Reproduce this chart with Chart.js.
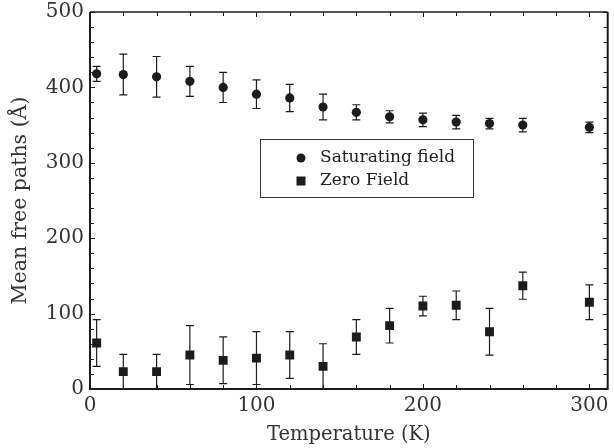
<!DOCTYPE html>
<html>
<head>
<meta charset="utf-8">
<script src="https://cdn.jsdelivr.net/npm/chart.js@4.4.0/dist/chart.umd.min.js"></script>
<style>
  html, body { margin: 0; padding: 0; background: #fff; }
  #wrap { width: 614px; height: 448px; position: relative; }
</style>
</head>
<body>
<div id="wrap"><canvas id="chart" width="614" height="448"></canvas></div>
<script>
// Temperature (K) of each measurement
const temps = [4, 20, 40, 60, 80, 100, 120, 140, 160, 180, 200, 220, 240, 260, 300];
// Saturating field: mean free path and error (Å)
const satValues = [418, 417, 414, 408, 400, 391, 386, 374, 367, 361, 357, 354, 352, 350, 347];
const satErrors = [10, 27, 27, 20, 20, 19, 18, 17, 10, 8, 9, 9, 7, 9, 7];
// Zero field: mean free path and error (Å)
const zeroValues = [61, 23, 23, 45, 38, 41, 45, 30, 69, 84, 110, 111, 76, 137, 115];
const zeroErrors = [31, 23, 23, 39, 31, 35, 31, 30, 23, 23, 13, 19, 31, 18, 23];

const seriesNames = ['Saturating field', 'Zero Field'];
const xLabel = 'Temperature (K)';
const yLabel = 'Mean free paths (\u00C5)';

const ink = '#1c1c1c';
const fontFamily = '"DejaVu Serif", serif';

function toPoints(xs, ys) {
    return xs.map((x, i) => ({ x: x, y: ys[i] }));
}

// error bars, drawn under the markers
const errorBars = {
    id: 'errorBars',
    beforeDatasetsDraw(chart) {
        const ctx = chart.ctx;
        const ys = chart.scales.y;
        const area = chart.chartArea;
        ctx.save();
        ctx.beginPath();
        ctx.rect(area.left, area.top, area.right - area.left, area.bottom - area.top);
        ctx.clip();
        ctx.strokeStyle = ink;
        ctx.lineWidth = 1.2;
        chart.data.datasets.forEach((ds, di) => {
            const meta = chart.getDatasetMeta(di);
            meta.data.forEach((pt, i) => {
                const v = ds.data[i].y, e = ds.errors[i];
                const top = ys.getPixelForValue(v + e);
                const bot = ys.getPixelForValue(v - e);
                ctx.beginPath();
                ctx.moveTo(pt.x, top); ctx.lineTo(pt.x, bot);
                ctx.moveTo(pt.x - 4, top); ctx.lineTo(pt.x + 4, top);
                ctx.moveTo(pt.x - 4, bot); ctx.lineTo(pt.x + 4, bot);
                ctx.stroke();
            });
        });
        ctx.restore();
    }
};

// box frame with inward ticks, and the framed legend
const frameAndLegend = {
    id: 'frameAndLegend',
    afterDraw(chart) {
        const ctx = chart.ctx;
        const a = chart.chartArea;
        const xs = chart.scales.x, ys = chart.scales.y;
        ctx.save();
        ctx.strokeStyle = ink;
        ctx.lineWidth = 1;
        ctx.beginPath();
        xs.ticks.forEach(t => {
            if (t.value % 20 !== 0) return;
            const len = t.value % 100 === 0 ? 5 : 4;
            const px = Math.round(xs.getPixelForValue(t.value)) + 0.5;
            ctx.moveTo(px, a.bottom); ctx.lineTo(px, a.bottom - len);
            ctx.moveTo(px, a.top); ctx.lineTo(px, a.top + len);
        });
        ys.ticks.forEach(t => {
            if (t.value % 20 !== 0) return;
            const len = t.value % 100 === 0 ? 5 : 4;
            const py = Math.round(ys.getPixelForValue(t.value)) + 0.5;
            ctx.moveTo(a.left, py); ctx.lineTo(a.left + len, py);
            ctx.moveTo(a.right, py); ctx.lineTo(a.right - len, py);
        });
        ctx.stroke();

        // frame: thin top, heavier left/right/bottom
        ctx.lineWidth = 1.3;
        ctx.beginPath();
        ctx.moveTo(a.left, a.top); ctx.lineTo(a.right, a.top);
        ctx.stroke();
        ctx.lineWidth = 2;
        ctx.beginPath();
        ctx.moveTo(a.left, a.top); ctx.lineTo(a.left, a.bottom);
        ctx.lineTo(a.right, a.bottom); ctx.lineTo(a.right, a.top);
        ctx.stroke();

        // legend box
        const lx = a.left + 170, ly = a.top + 127, lw = 213, lh = 58;
        ctx.lineWidth = 1;
        ctx.strokeStyle = '#333';
        ctx.fillStyle = '#fff';
        ctx.fillRect(lx, ly, lw, lh);
        ctx.strokeRect(lx + 0.5, ly + 0.5, lw, lh);
        ctx.font = '17px ' + fontFamily;
        ctx.textBaseline = 'middle';
        chart.data.datasets.forEach((ds, di) => {
            const cy = ly + 19 + di * 23;
            const cx = lx + 41;
            ctx.fillStyle = ink;
            if (ds.pointStyle === 'circle') {
                ctx.beginPath(); ctx.arc(cx, cy, 4.5, 0, Math.PI * 2); ctx.fill();
            } else {
                ctx.fillRect(cx - 4.5, cy - 4.5, 9, 9);
            }
            ctx.fillStyle = '#222';
            ctx.fillText(ds.label, lx + 60, cy);
        });
        ctx.restore();
    }
};

const tickLabel = v => (v % 100 === 0 ? String(v) : '');

new Chart(document.getElementById('chart'), {
    type: 'scatter',
    data: {
        datasets: [
            {
                label: seriesNames[0],
                data: toPoints(temps, satValues),
                errors: satErrors,
                pointStyle: 'circle',
                pointRadius: 4.6,
                backgroundColor: ink,
                borderColor: ink,
                borderWidth: 0
            },
            {
                label: seriesNames[1],
                data: toPoints(temps, zeroValues),
                errors: zeroErrors,
                pointStyle: 'rect',
                pointRadius: 6.3,
                backgroundColor: ink,
                borderColor: ink,
                borderWidth: 0
            }
        ]
    },
    options: {
        responsive: false,
        animation: false,
        layout: { padding: { left: 0, top: 12, right: 5, bottom: 0 } },
        plugins: { legend: { display: false }, tooltip: { enabled: false } },
        scales: {
            x: {
                type: 'linear',
                min: 0,
                max: 311,
                grid: { display: false, drawTicks: false },
                border: { display: false },
                ticks: { stepSize: 20, includeBounds: false, autoSkip: false, maxRotation: 0, padding: 5, color: '#333',
                         font: { family: fontFamily, size: 20 }, callback: tickLabel },
                title: { display: true, text: xLabel, color: '#333',
                         font: { family: fontFamily, size: 19.5 }, padding: { top: 0, bottom: 1 } },
                afterFit(scale) { scale.height = 59; scale.paddingLeft = 0; scale.paddingRight = 0; }
            },
            y: {
                type: 'linear',
                min: 0,
                max: 500,
                grid: { display: false, drawTicks: false },
                border: { display: false },
                ticks: { stepSize: 20, autoSkip: false, padding: 6, color: '#333',
                         font: { family: fontFamily, size: 20 }, callback: tickLabel },
                title: { display: true, text: yLabel, color: '#333',
                         font: { family: fontFamily, size: 20.5 }, padding: { top: 8, bottom: 0 } },
                afterFit(scale) { scale.width = 90; scale.paddingTop = 0; scale.paddingBottom = 0; }
            }
        }
    },
    plugins: [errorBars, frameAndLegend]
});
</script>
</body>
</html>
